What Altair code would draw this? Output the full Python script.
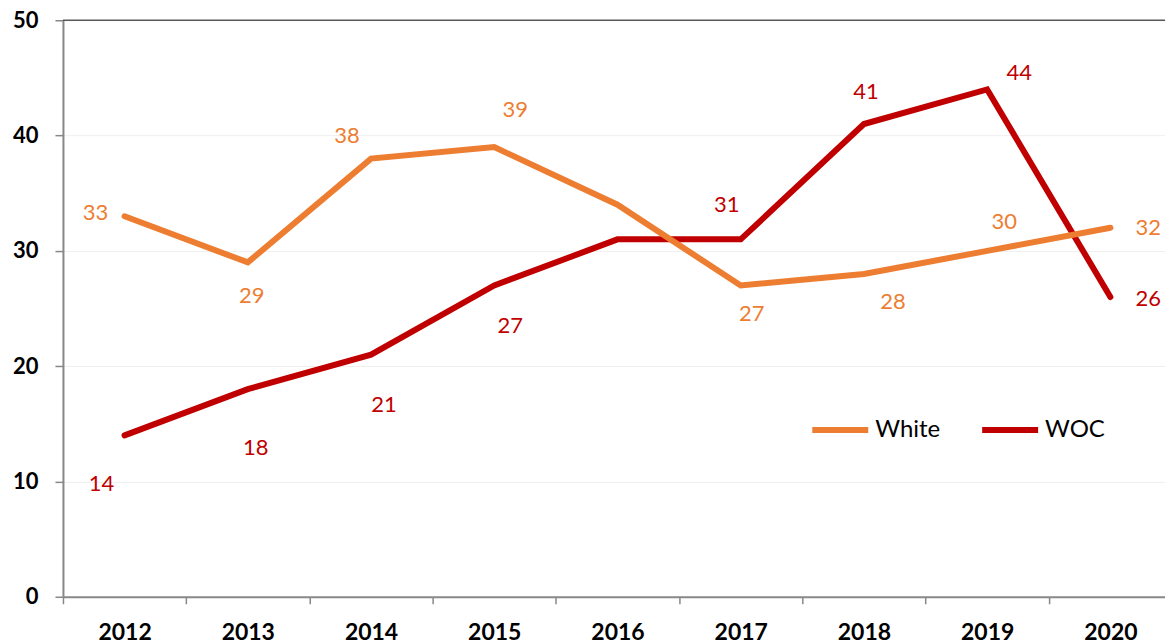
import altair as alt
import pandas as pd

# ---- data ----
YEARS = ["2012", "2013", "2014", "2015", "2016", "2017", "2018", "2019", "2020"]
WHITE = [33, 29, 38, 39, 34, 27, 28, 30, 32]
WOC = [14, 18, 21, 27, 31, 31, 41, 44, 26]
SERIES = ["White", "WOC"]

# ---- styling ----
COLORS = {"White": "#ED7D31", "WOC": "#C00000"}
FONT = "Lato"
# label nudges (pixels) relative to each point; None = no label
LABEL_NUDGE = {
    "White": [(-29, -3), (4, 34), (-24, -23), (21, -37), None, (11, 29), (29, 28), (17, -29), (38, 0)],
    "WOC": [(-23, 49), (8, 59), (13, 50), (16, 41), None, (-14, -34), (2, -32), (32, -16), (38, 2)],
}

rows = []
for yr, w, c in zip(YEARS, WHITE, WOC):
    rows.append({"year": yr, "series": "White", "value": w})
    rows.append({"year": yr, "series": "WOC", "value": c})
df = pd.DataFrame(rows)

x_enc = alt.X(
    "year:N",
    bandPosition=0.5,
    scale=alt.Scale(type="band", domain=YEARS, paddingInner=0, paddingOuter=0),
    axis=alt.Axis(
        title=None, tickBand="extent", labelAngle=0, labelFont=FONT, labelFontSize=23,
        labelFontWeight="bold", labelColor="black", labelPadding=18,
        domainColor="#888888", domainWidth=2, tickColor="#888888", tickWidth=1.5,
        tickSize=7, grid=False,
    ),
)
y_enc = alt.Y(
    "value:Q",
    scale=alt.Scale(domain=[0, 50], nice=False),
    axis=alt.Axis(
        title=None, values=[0, 10, 20, 30, 40, 50], labelFont=FONT, labelFontSize=22,
        labelFontWeight="bold", labelColor="black", labelPadding=17, tickSize=8,
        tickColor="#888888", tickWidth=1.5, domainColor="#888888", domainWidth=2,
        gridColor="#EFEFEF", gridWidth=1, minExtent=55,
    ),
)
color_enc = alt.Color(
    "series:N",
    scale=alt.Scale(domain=SERIES, range=[COLORS[s] for s in SERIES]),
    legend=alt.Legend(
        title=None, orient="none", legendX=747, legendY=379, direction="horizontal",
        symbolType="stroke", symbolSize=3136, symbolStrokeWidth=6,
        labelFont=FONT, labelFontSize=24, labelColor="black", columnPadding=29,
        labelOffset=4, padding=0,
    ),
)

base = alt.Chart(df)

top_rule = alt.Chart(pd.DataFrame({"v": [50]})).mark_rule(
    color="#595959", strokeWidth=1.5
).encode(y=alt.Y("v:Q", scale=alt.Scale(domain=[0, 50], nice=False)))

layers = [top_rule]
for s in ["WOC", "White"]:
    layers.append(
        base.transform_filter(alt.datum.series == s)
        .mark_line(strokeWidth=6, strokeCap="round")
        .encode(x=x_enc, y=y_enc, color=color_enc)
    )

for s in SERIES:
    for yr, nudge in zip(YEARS, LABEL_NUDGE[s]):
        if nudge is None:
            continue
        dx, dy = nudge
        layers.append(
            base.transform_filter((alt.datum.series == s) & (alt.datum.year == yr))
            .mark_text(dx=dx, dy=dy, fontSize=22, font=FONT, color=COLORS[s],
                       align="center", baseline="middle")
            .encode(x=x_enc, y=y_enc, text="value:Q")
        )

chart = alt.layer(*layers).properties(
    width=1110, height=577,
    padding={"left": 0, "top": 1, "right": -8, "bottom": 0},
).configure_view(stroke=None)

chart.save("out.html", embed_options={"renderer": "svg", "actions": False})
